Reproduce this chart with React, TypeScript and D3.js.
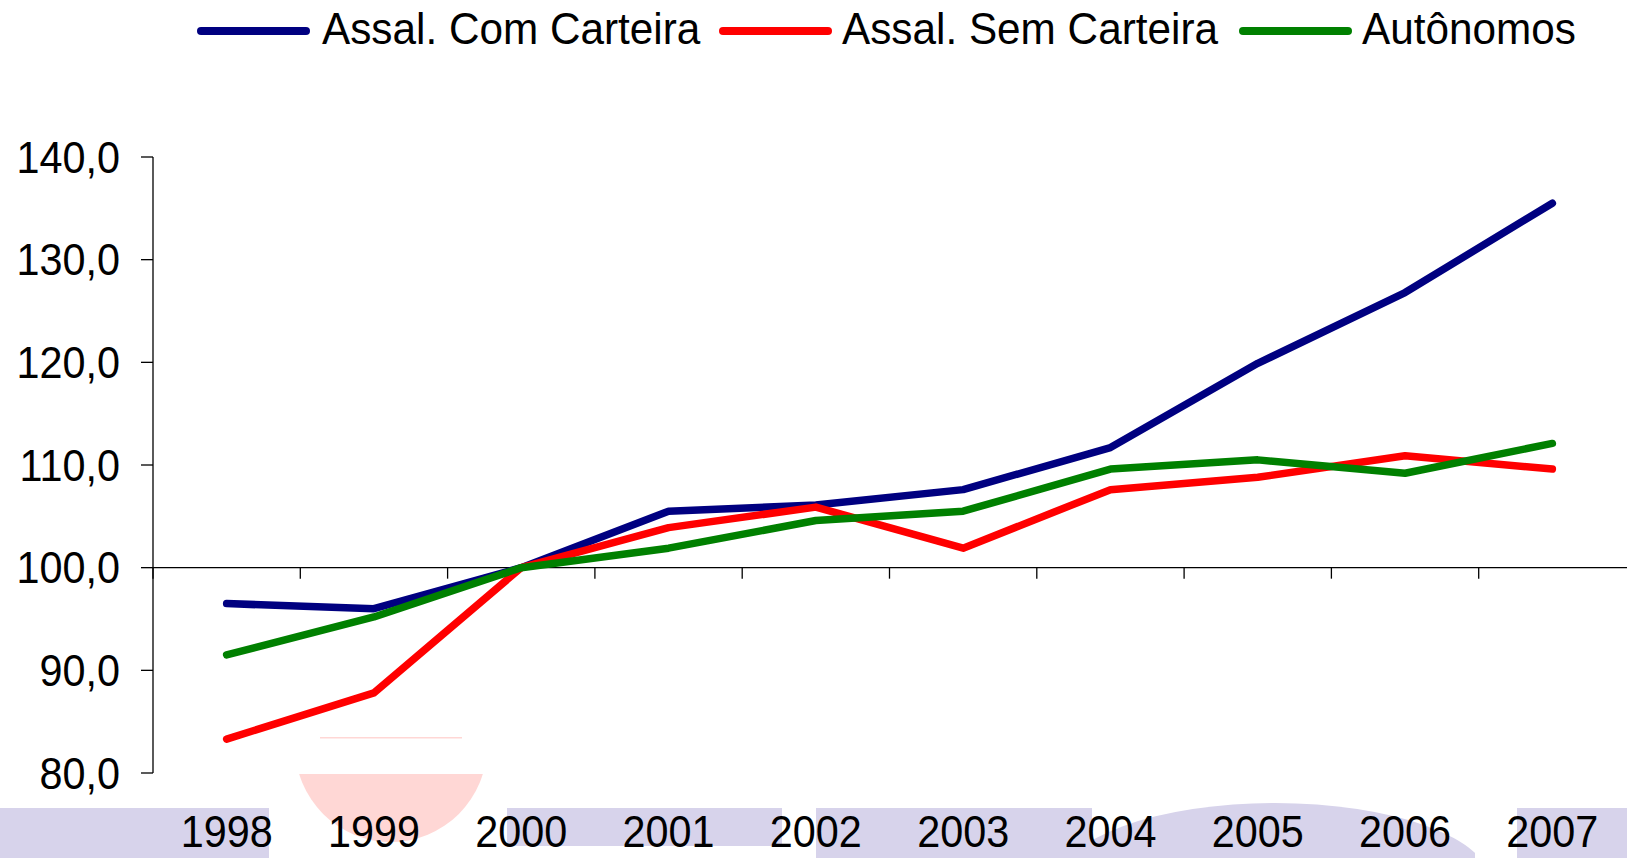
import React from "react";
import * as d3 from "d3";

const years = ["1998", "1999", "2000", "2001", "2002", "2003", "2004", "2005", "2006", "2007"];
const comCarteira = [96.5, 96.0, 100.0, 105.5, 106.1, 107.6, 111.7, 119.9, 126.8, 135.5];
const semCarteira = [83.3, 87.8, 100.0, 103.9, 105.9, 101.9, 107.6, 108.8, 110.9, 109.6];
const autonomos = [91.5, 95.2, 100.0, 101.9, 104.6, 105.5, 109.6, 110.5, 109.2, 112.1];
const yTicks = [80, 90, 100, 110, 120, 130, 140];

const seriesNames = ["Assal. Com Carteira", "Assal. Sem Carteira", "Autônomos"];
const seriesColors = ["#000080", "#ff0000", "#008000"];
const seriesValues = [comCarteira, semCarteira, autonomos];

const W = 1627;
const H = 858;
const FONT = "'Liberation Sans', Arial, sans-serif";
const SX = 0.94; // text is a bit condensed in the original

const App = () => {
  const x = d3.scaleBand().domain(years).range([153, 1626]).padding(0);
  const y = d3.scaleLinear().domain([80, 140]).range([773, 157]);
  const fmt = (v: number) => d3.format(".1f")(v).replace(".", ",");

  const line = d3
    .line<number>()
    .x((_, i) => (x(years[i]) as number) + x.bandwidth() / 2)
    .y((d) => y(d));

  // legend layout (swatch start, text start)
  const legendPos = [
    [197, 322],
    [719, 842],
    [1239, 1362],
  ];

  const lav = "#d7d3eb";
  const pink = "#ffd7d5";

  return (
    <svg
      width={W}
      height={H}
      style={{ position: "absolute", left: 0, top: 0, display: "block", background: "#fff" }}
    >
      <defs>
        <clipPath id="pinkClip">
          <rect x={0} y={774} width={W} height={100} />
        </clipPath>
        <clipPath id="arcClip">
          <rect x={1060} y={0} width={415} height={H} />
        </clipPath>
      </defs>

      {/* slide background bits */}
      <g>
        <rect x={0} y={808} width={269} height={50} fill={lav} />
        <rect x={507} y={808} width={275} height={38} fill={lav} />
        <rect x={816} y={808} width={276} height={50} fill={lav} />
        <ellipse cx={1275} cy={882} rx={215} ry={79} fill={lav} clipPath="url(#arcClip)" />
        <rect x={1517} y={808} width={110} height={50} fill={lav} />
        <circle cx={391} cy={746} r={96} fill={pink} clipPath="url(#pinkClip)" />
        <rect x={320} y={737} width={142} height={1.5} fill={pink} />
      </g>

      {/* y axis */}
      <g>
        <line x1={153} x2={153} y1={y(140)} y2={y(80)} stroke="#000" strokeWidth={1.3} />
        {yTicks.map((t) => (
          <g key={t}>
            <line x1={141} x2={153} y1={y(t)} y2={y(t)} stroke="#000" strokeWidth={1.3} />
            <text
              transform={`translate(120,${y(t) + 15.5}) scale(${SX},1)`}
              textAnchor="end"
              fontFamily={FONT}
              fontSize={44}
              fill="#000"
            >
              {fmt(t)}
            </text>
          </g>
        ))}
      </g>

      {/* x axis at 100 */}
      <g>
        <line x1={153} x2={W} y1={y(100)} y2={y(100)} stroke="#000" strokeWidth={1.3} />
        {years.map((yr) => (
          <line
            key={yr}
            x1={x(yr) as number}
            x2={x(yr) as number}
            y1={y(100)}
            y2={y(100) + 11}
            stroke="#000"
            strokeWidth={1.3}
          />
        ))}
        {years.map((yr) => (
          <text
            key={yr}
            transform={`translate(${(x(yr) as number) + x.bandwidth() / 2},847) scale(${SX},1)`}
            textAnchor="middle"
            fontFamily={FONT}
            fontSize={44}
            fill="#000"
          >
            {yr}
          </text>
        ))}
      </g>

      {/* series */}
      {seriesValues.map((vals, i) => (
        <path
          key={seriesNames[i]}
          d={line(vals) || ""}
          fill="none"
          stroke={seriesColors[i]}
          strokeWidth={7.5}
          strokeLinejoin="round"
          strokeLinecap="round"
        />
      ))}

      {/* legend */}
      {seriesNames.map((name, i) => (
        <g key={name}>
          <line
            x1={legendPos[i][0] + 4}
            x2={legendPos[i][0] + 109}
            y1={31}
            y2={31}
            stroke={seriesColors[i]}
            strokeWidth={8}
            strokeLinecap="round"
          />
          <text
            transform={`translate(${legendPos[i][1]},44) scale(${SX},1)`}
            fontFamily={FONT}
            fontSize={45}
            fill="#000"
          >
            {name}
          </text>
        </g>
      ))}
    </svg>
  );
};

export default App;
